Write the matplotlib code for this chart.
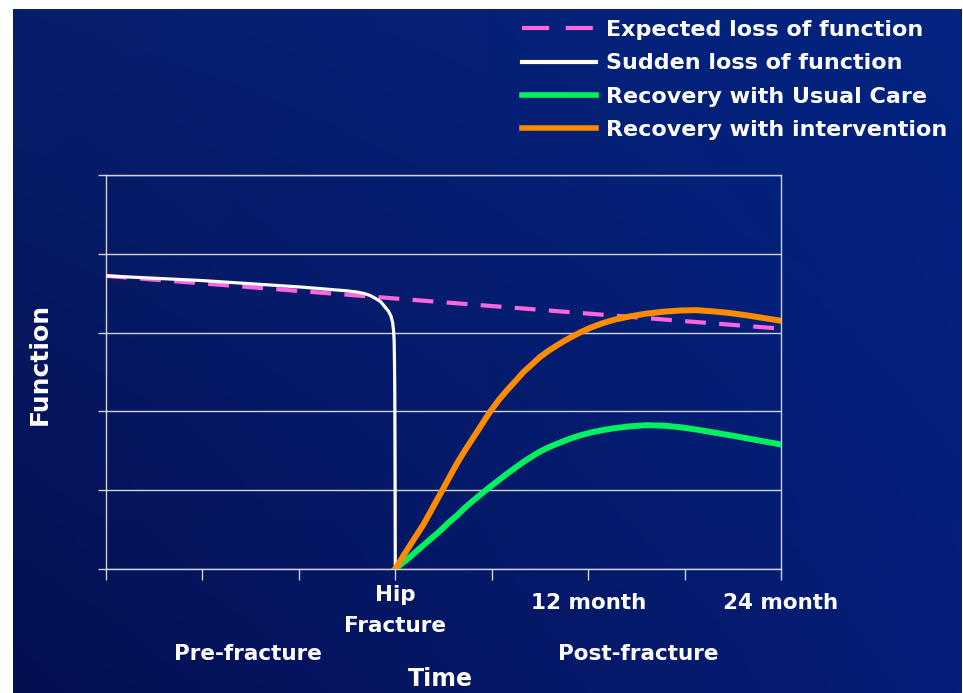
import numpy as np
import matplotlib
matplotlib.use("Agg")
import matplotlib.pyplot as plt
from matplotlib.lines import Line2D
from matplotlib.transforms import ScaledTranslation

# ---------------- data ----------------
expected_x = [0.0, 7.0]
expected_y = [3.72, 3.05]

sudden_x = [0.0, 0.5, 1.0, 1.5, 2.0, 2.5, 2.6, 2.68, 2.74, 2.80, 2.85, 2.89, 2.93, 2.955,
            2.972, 2.982, 2.988, 2.992, 2.995, 2.998, 3.0]
sudden_y = [3.72, 3.69, 3.66, 3.62, 3.58, 3.53, 3.515, 3.495, 3.47, 3.43, 3.39, 3.33, 3.27, 3.21,
            3.13, 3.03, 2.9, 2.6, 2.2, 1.2, 0.0]

usual_x = [3.0, 3.15, 3.29, 3.38, 3.47, 3.55, 3.64, 3.72, 3.81, 3.90, 3.98, 4.07, 4.16, 4.25,
           4.33, 4.42, 4.50, 4.59, 4.68, 4.76, 4.85, 4.93, 5.02, 5.14, 5.26, 5.43, 5.60, 5.78,
           5.95, 6.12, 6.29, 6.46, 6.64, 6.82, 7.0]
usual_y = [0.0, 0.15, 0.30, 0.395, 0.49, 0.585, 0.68, 0.775, 0.87, 0.96, 1.04, 1.125, 1.21, 1.29,
           1.36, 1.43, 1.49, 1.545, 1.59, 1.63, 1.67, 1.70, 1.73, 1.76, 1.785, 1.81, 1.825, 1.82,
           1.80, 1.77, 1.735, 1.70, 1.66, 1.62, 1.58]

interv_x = [3.0, 3.10, 3.20, 3.29, 3.38, 3.47, 3.55, 3.64, 3.72, 3.81, 3.90, 3.98, 4.07, 4.16,
            4.25, 4.33, 4.42, 4.50, 4.59, 4.68, 4.76, 4.85, 4.93, 5.02, 5.14, 5.26, 5.43, 5.60,
            5.78, 5.95, 6.12, 6.29, 6.46, 6.64, 6.82, 7.0]
interv_y = [0.0, 0.20, 0.39, 0.56, 0.76, 0.96, 1.14, 1.34, 1.50, 1.67, 1.84, 1.99, 2.14, 2.27,
            2.39, 2.50, 2.60, 2.69, 2.77, 2.84, 2.90, 2.96, 3.01, 3.06, 3.115, 3.16, 3.205, 3.24,
            3.265, 3.28, 3.285, 3.27, 3.25, 3.22, 3.185, 3.15]

xtick_pos = [0, 1, 2, 3, 4, 5, 6, 7]
xtick_labels = ["", "", "", "Hip\nFracture", "", "12 month", "", "24 month"]
ytick_pos = [0, 1, 2, 3, 4, 5]

legend_labels = ["Expected loss of function", "Sudden loss of function",
                 "Recovery with Usual Care", "Recovery with intervention"]

# ---------------- style ----------------
W, H = 963, 693
FONT = "DejaVu Sans"
plt.rcParams["font.family"] = [FONT]
plt.rcParams["font.weight"] = "bold"

PINK = "#ff66dd"
WHITE = "#ffffff"
GREEN = "#00f060"
ORANGE = "#ff8c00"
GRID = "#d0d2dc"

fig = plt.figure(figsize=(W / 100, H / 100), dpi=100, facecolor="white")

# background gradient panel
bg = fig.add_axes([13 / W, 0, 1 - 14 / W, 1 - 9 / H])
bg.set_axis_off()
tl = np.array([8, 30, 108]) / 255
tr = np.array([2, 36, 130]) / 255
bl = np.array([4, 15, 82]) / 255
br = np.array([6, 30, 120]) / 255
u = np.linspace(0, 1, 200)[None, :, None]
v = np.linspace(0, 1, 200)[:, None, None]
img = (1 - v) * ((1 - u) * tl + u * tr) + v * ((1 - u) * bl + u * br)
bg.imshow(img, aspect="auto", extent=[0, 1, 0, 1], origin="upper")
bg.set_xlim(0, 1)
bg.set_ylim(0, 1)

# main axes
L, R, T, B = 106, 781, 175, 569
ax = fig.add_axes([L / W, 1 - B / H, (R - L) / W, (B - T) / H])
ax.patch.set_alpha(0)
ax.set_xlim(0, 7)
ax.set_ylim(0, 5)

for s in ax.spines.values():
    s.set_color(GRID)
    s.set_linewidth(1.0)

ax.set_yticks(ytick_pos)
ax.set_yticklabels([])
ax.yaxis.grid(True, color=GRID, linewidth=1.0)
ax.set_axisbelow(True)
ax.tick_params(axis="y", direction="out", length=6, width=1.0, color=GRID, left=True)

ax.set_xticks(xtick_pos)
ax.set_xticklabels(xtick_labels, fontsize=15.5, fontweight="bold", color="white", linespacing=1.7)
ax.tick_params(axis="x", direction="out", length=8, width=1.0, color=GRID, pad=9.5)
hip = ax.get_xticklabels()[3]
hip.set_transform(hip.get_transform() + ScaledTranslation(0, 6 / 72, fig.dpi_scale_trans))

l_exp, = ax.plot(expected_x, expected_y, color=PINK, lw=3.0, dashes=(5, 3.2), solid_capstyle="butt", zorder=3)
l_sud, = ax.plot(sudden_x, sudden_y, color=WHITE, lw=2.3, zorder=4, solid_joinstyle="round")
l_usu, = ax.plot(usual_x, usual_y, color=GREEN, lw=4.3, zorder=5, solid_joinstyle="round")
l_int, = ax.plot(interv_x, interv_y, color=ORANGE, lw=4.3, zorder=6, solid_joinstyle="round")

# legend
handles = [
    Line2D([], [], color=PINK, lw=3.0, dashes=(6.5, 4.0)),
    Line2D([], [], color=WHITE, lw=3.0),
    Line2D([], [], color=GREEN, lw=4.0),
    Line2D([], [], color=ORANGE, lw=4.0),
]
leg = fig.legend(handles, legend_labels, loc="upper left",
                 bbox_to_anchor=(522 / W, 1 - 20 / H), frameon=False,
                 prop={"family": FONT, "weight": "bold", "size": 16},
                 labelcolor="white", handlelength=3.35, handletextpad=0.45,
                 labelspacing=0.6, borderpad=0, borderaxespad=0)

# other texts
fig.text(40 / W, 1 - 364 / H, "Function", rotation=90, ha="center", va="center",
         color="white", fontsize=18, fontweight="bold")
fig.text(248 / W, 1 - 654 / H, "Pre-fracture", ha="center", va="center",
         color="white", fontsize=15.5, fontweight="bold")
fig.text(638 / W, 1 - 654 / H, "Post-fracture", ha="center", va="center",
         color="white", fontsize=15.5, fontweight="bold")
fig.text(440 / W, 1 - 679 / H, "Time", ha="center", va="center",
         color="white", fontsize=17, fontweight="bold")

fig.savefig("out.png", dpi=100, facecolor="white")
